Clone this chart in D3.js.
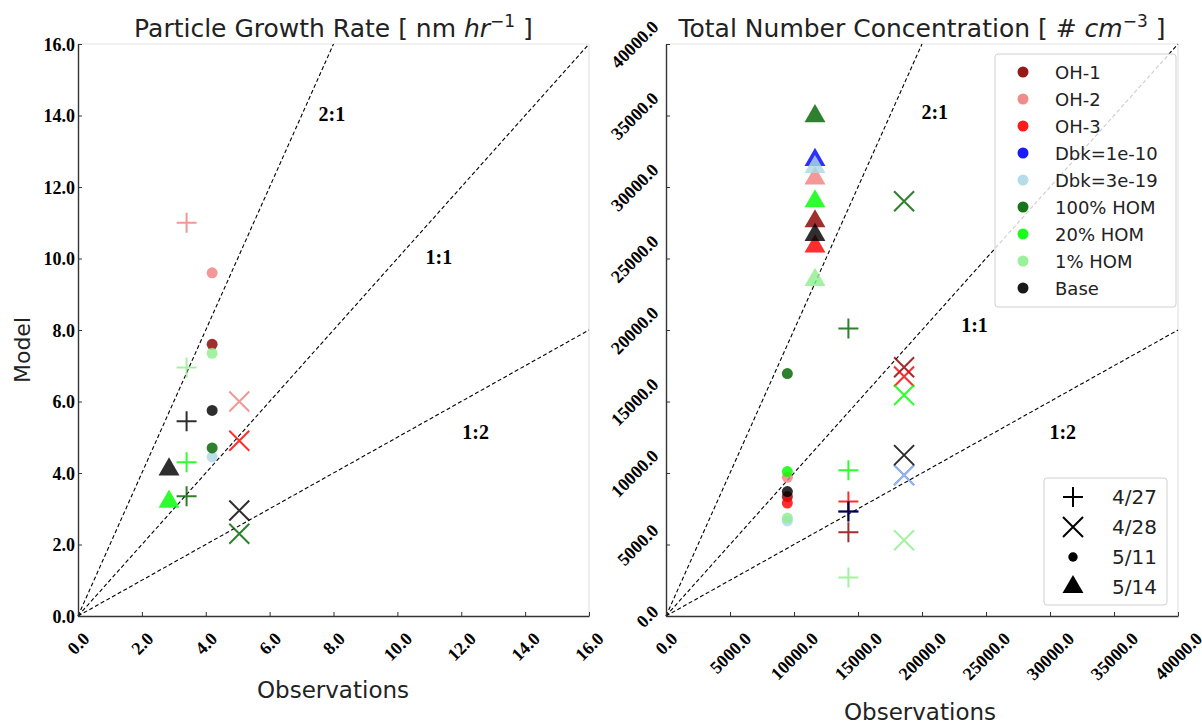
<!DOCTYPE html>
<html>
<head>
<meta charset="utf-8">
<script src="https://cdn.jsdelivr.net/npm/d3@7"></script>
<style>
  body { margin: 0; background: #fff; }
  svg { display: block; }
</style>
</head>
<body>
<svg id="chart" width="1202" height="725"></svg>
<script>
// ---- Simulation cases and campaign days ----
const seriesNames  = ["OH-1", "OH-2", "OH-3", "Dbk=1e-10", "Dbk=3e-19", "100% HOM", "20% HOM", "1% HOM", "Base"];
const seriesColors = ["#8b0000", "#f08080", "#ff0000", "#0000ff", "#add8e6", "#006400", "#00ff00", "#90ee90", "#000000"];
const dates        = ["4/27", "4/28", "5/11", "5/14"];
const dateShapes   = ["plus", "cross", "circle", "triangle"];

// ---- Particle growth rate [nm/hr] ----
const grObs = [3.4, 5.05, 4.2, 2.85];            // observed, one per day
// modelled, one value per day (null = not shown)
const grOH1      = [null, null, 7.6,  null];
const grOH2      = [11.0, 6.0,  9.6,  null];
const grOH3      = [null, 4.9,  null, null];
const grDbk10    = [null, null, null, null];
const grDbk19    = [null, null, 4.45, null];
const grHOM100   = [3.35, 2.3,  4.7,  null];
const grHOM20    = [4.3,  null, null, 3.2];
const grHOM1     = [6.95, null, 7.35, null];
const grBase     = [5.45, 2.95, 5.75, 4.1];

// ---- Total number concentration [#/cm3] ----
const ncObs = [14250, 18600, 9480, 11640];
const ncOH1      = [5850,  17400, 8350,  27600];
const ncOH2      = [null,  null,  9700,  30600];
const ncOH3      = [8000,  16750, 7900,  25850];
const ncDbk10    = [7300,  9850,  null,  31900];
const ncDbk19    = [null,  9850,  6650,  31400];
const ncHOM100   = [20100, 29000, 16950, 34950];
const ncHOM20    = [10200, 15450, 10100, 29000];
const ncHOM1     = [2700,  5300,  6850,  23500];
const ncBase     = [7300,  11250, 8700,  26650];

// ---- Axis ticks ----
const grTicks = [0, 2, 4, 6, 8, 10, 12, 14, 16];
const ncTicks = [0, 5000, 10000, 15000, 20000, 25000, 30000, 35000, 40000];

// ---- Reference lines (model : observation) ----
const ratioSlopes = [2, 1, 0.5];
const ratioNames  = ["2:1", "1:1", "1:2"];
const grRatioPos  = [[7.95, 14.05], [11.3, 10.05], [12.45, 5.15]];
const ncRatioPos  = [[21000, 35250], [24100, 20350], [31000, 12850]];

const grModel = [grOH1, grOH2, grOH3, grDbk10, grDbk19, grHOM100, grHOM20, grHOM1, grBase];
const ncModel = [ncOH1, ncOH2, ncOH3, ncDbk10, ncDbk19, ncHOM100, ncHOM20, ncHOM1, ncBase];

const svg = d3.select("#chart");
const tickFont = "'Liberation Serif', 'Times New Roman', serif";
const sansFont = "'DejaVu Sans', sans-serif";

// marker drawing
function markerPath(shape) {
  if (shape === "plus")  return "M-10,0H10M0,-10V10";
  if (shape === "cross") return "M-10,-10L10,10M-10,10L10,-10";
  if (shape === "circle") return d3.symbol(d3.symbolCircle, 95)();
  return d3.symbol(d3.symbolTriangle, 190)();
}
function drawMarker(g, shape, color, x, y, opacity) {
  const p = g.append("path")
    .attr("d", markerPath(shape))
    .attr("transform", `translate(${x},${y})`);
  if (shape === "plus" || shape === "cross") {
    p.attr("fill", "none").attr("stroke", color).attr("stroke-width", 2)
     .attr("stroke-opacity", opacity);
  } else {
    p.attr("fill", color).attr("fill-opacity", opacity).attr("stroke", "none");
  }
  return p;
}

function panel(opts) {
  const { left, right, top, bottom, max, ticks, obs, model, ratioPos, title, titleSup, titleBase, rotateY } = opts;
  const x = d3.scaleLinear().domain([0, max]).range([left, right]);
  const y = d3.scaleLinear().domain([0, max]).range([bottom, top]);
  const g = svg.append("g");

  // frame: light top/right, dark left/bottom
  g.append("line").attr("x1", left).attr("x2", right).attr("y1", top).attr("y2", top)
    .attr("stroke", "#e3e3e3").attr("stroke-width", 1.2);
  g.append("line").attr("x1", right).attr("x2", right).attr("y1", top).attr("y2", bottom)
    .attr("stroke", "#e3e3e3").attr("stroke-width", 1.2);

  // reference lines
  const ratioG = g.append("g");
  ratioSlopes.forEach((s, i) => {
    const xe = s >= 1 ? max / s : max;
    const ye = s >= 1 ? max : max * s;
    ratioG.append("line")
      .attr("x1", x(0)).attr("y1", y(0)).attr("x2", x(xe)).attr("y2", y(ye))
      .attr("stroke", "#000").attr("stroke-width", 1.1).attr("stroke-dasharray", "4,2.5");
    ratioG.append("text")
      .attr("x", x(ratioPos[i][0])).attr("y", y(ratioPos[i][1]))
      .attr("text-anchor", "middle").attr("dominant-baseline", "central")
      .attr("font-family", tickFont).attr("font-weight", "bold").attr("font-size", 20)
      .text(ratioNames[i]);
  });

  // axes
  const fmt = d3.format(".1f");
  const xAxis = g.append("g").attr("transform", `translate(0,${bottom})`)
    .call(d3.axisBottom(x).tickValues(ticks).tickSize(-4).tickSizeOuter(0).tickFormat(fmt));
  const yAxis = g.append("g").attr("transform", `translate(${left},0)`)
    .call(d3.axisLeft(y).tickValues(ticks).tickSize(-4).tickSizeOuter(0).tickFormat(fmt));
  [xAxis, yAxis].forEach(a => {
    a.select(".domain").attr("stroke", "#333").attr("stroke-width", 1.4);
    a.selectAll(".tick line").attr("stroke", "#333").attr("stroke-width", 1);
    a.selectAll(".tick text")
      .attr("font-family", tickFont).attr("font-weight", "bold").attr("font-size", 18).attr("fill", "#000");
  });

  // x tick labels rotated 45°, bounding box centred under tick and top-aligned
  xAxis.selectAll(".tick text").each(function () {
    const t = d3.select(this);
    const L = this.getComputedTextLength();
    const h = 13;
    const half = (L + h) / (2 * Math.SQRT2);
    t.attr("text-anchor", "middle").attr("dominant-baseline", "central")
     .attr("x", 0).attr("dy", null).attr("y", 15 + half)
     .attr("transform", `rotate(-45,0,${15 + half})`);
  });

  if (rotateY) {
    yAxis.selectAll(".tick text").each(function () {
      const t = d3.select(this);
      const L = this.getComputedTextLength();
      const h = 13;
      const half = (L + h) / (2 * Math.SQRT2);
      t.attr("text-anchor", "middle").attr("dominant-baseline", "central")
       .attr("x", -6 - half).attr("dy", null).attr("y", 0)
       .attr("transform", `rotate(-45,${-6 - half},0)`);
    });
  } else {
    yAxis.selectAll(".tick text").attr("x", -3).attr("dy", "0.36em");
  }

  // data markers, legend order sets stacking
  const markG = g.append("g");
  model.forEach((vals, si) => {
    vals.forEach((v, di) => {
      if (v === null) return;
      drawMarker(markG, dateShapes[di], seriesColors[si], x(obs[di]), y(v), 0.82);
    });
  });

  // title
  const tt = svg.append("text")
    .attr("x", (left + right) / 2).attr("y", 37)
    .attr("text-anchor", "middle")
    .attr("font-family", sansFont).attr("font-size", 25).attr("fill", "#222");
  tt.append("tspan").text(title);
  tt.append("tspan").attr("font-style", "italic").text(titleBase);
  tt.append("tspan").attr("font-size", 17).attr("dy", -10).text(titleSup);
  tt.append("tspan").attr("dy", 10).text(" ]");

  return { x, y, g };
}

panel({
  left: 78, right: 589, top: 44, bottom: 616, max: 16, ticks: grTicks,
  obs: grObs, model: grModel, ratioPos: grRatioPos,
  title: "Particle Growth Rate [ nm ", titleBase: "hr", titleSup: "\u22121", rotateY: false
});
panel({
  left: 666, right: 1178, top: 44, bottom: 616, max: 40000, ticks: ncTicks,
  obs: ncObs, model: ncModel, ratioPos: ncRatioPos,
  title: "Total Number Concentration [ # ", titleBase: "cm", titleSup: "\u22123", rotateY: true
});

// axis labels
svg.append("text").attr("x", 333).attr("y", 698).attr("text-anchor", "middle")
  .attr("font-family", sansFont).attr("font-size", 23).attr("fill", "#222").text("Observations");
svg.append("text").attr("x", 920).attr("y", 720).attr("text-anchor", "middle")
  .attr("font-family", sansFont).attr("font-size", 23).attr("fill", "#222").text("Observations");
svg.append("text").attr("transform", "translate(30,350) rotate(-90)").attr("text-anchor", "middle")
  .attr("font-family", sansFont).attr("font-size", 22).attr("fill", "#222").text("Model");

// legend: simulation cases
const leg1 = svg.append("g");
leg1.append("rect").attr("x", 995).attr("y", 54).attr("width", 181).attr("height", 253)
  .attr("rx", 3).attr("fill", "#fff").attr("fill-opacity", 0.8).attr("stroke", "#d0d0d0");
seriesNames.forEach((name, i) => {
  const yy = 72 + i * 27;
  drawMarker(leg1, "circle", seriesColors[i], 1023, yy, 0.9);
  leg1.append("text").attr("x", 1055).attr("y", yy).attr("dominant-baseline", "central")
    .attr("font-family", sansFont).attr("font-size", 18).attr("fill", "#222").text(name);
});

// legend: campaign days
const leg2 = svg.append("g");
leg2.append("rect").attr("x", 1044).attr("y", 478).attr("width", 123).attr("height", 127)
  .attr("rx", 3).attr("fill", "#fff").attr("fill-opacity", 0.8).attr("stroke", "#d0d0d0");
dates.forEach((d, i) => {
  const yy = 497 + i * 30;
  const shape = dateShapes[i];
  const m = drawMarker(leg2, shape, "#000", 1073, yy, 1);
  if (shape === "circle") m.attr("d", d3.symbol(d3.symbolCircle, 70)());
  leg2.append("text").attr("x", 1112).attr("y", yy).attr("dominant-baseline", "central")
    .attr("font-family", sansFont).attr("font-size", 20).attr("fill", "#222").text(d);
});
</script>
</body>
</html>
